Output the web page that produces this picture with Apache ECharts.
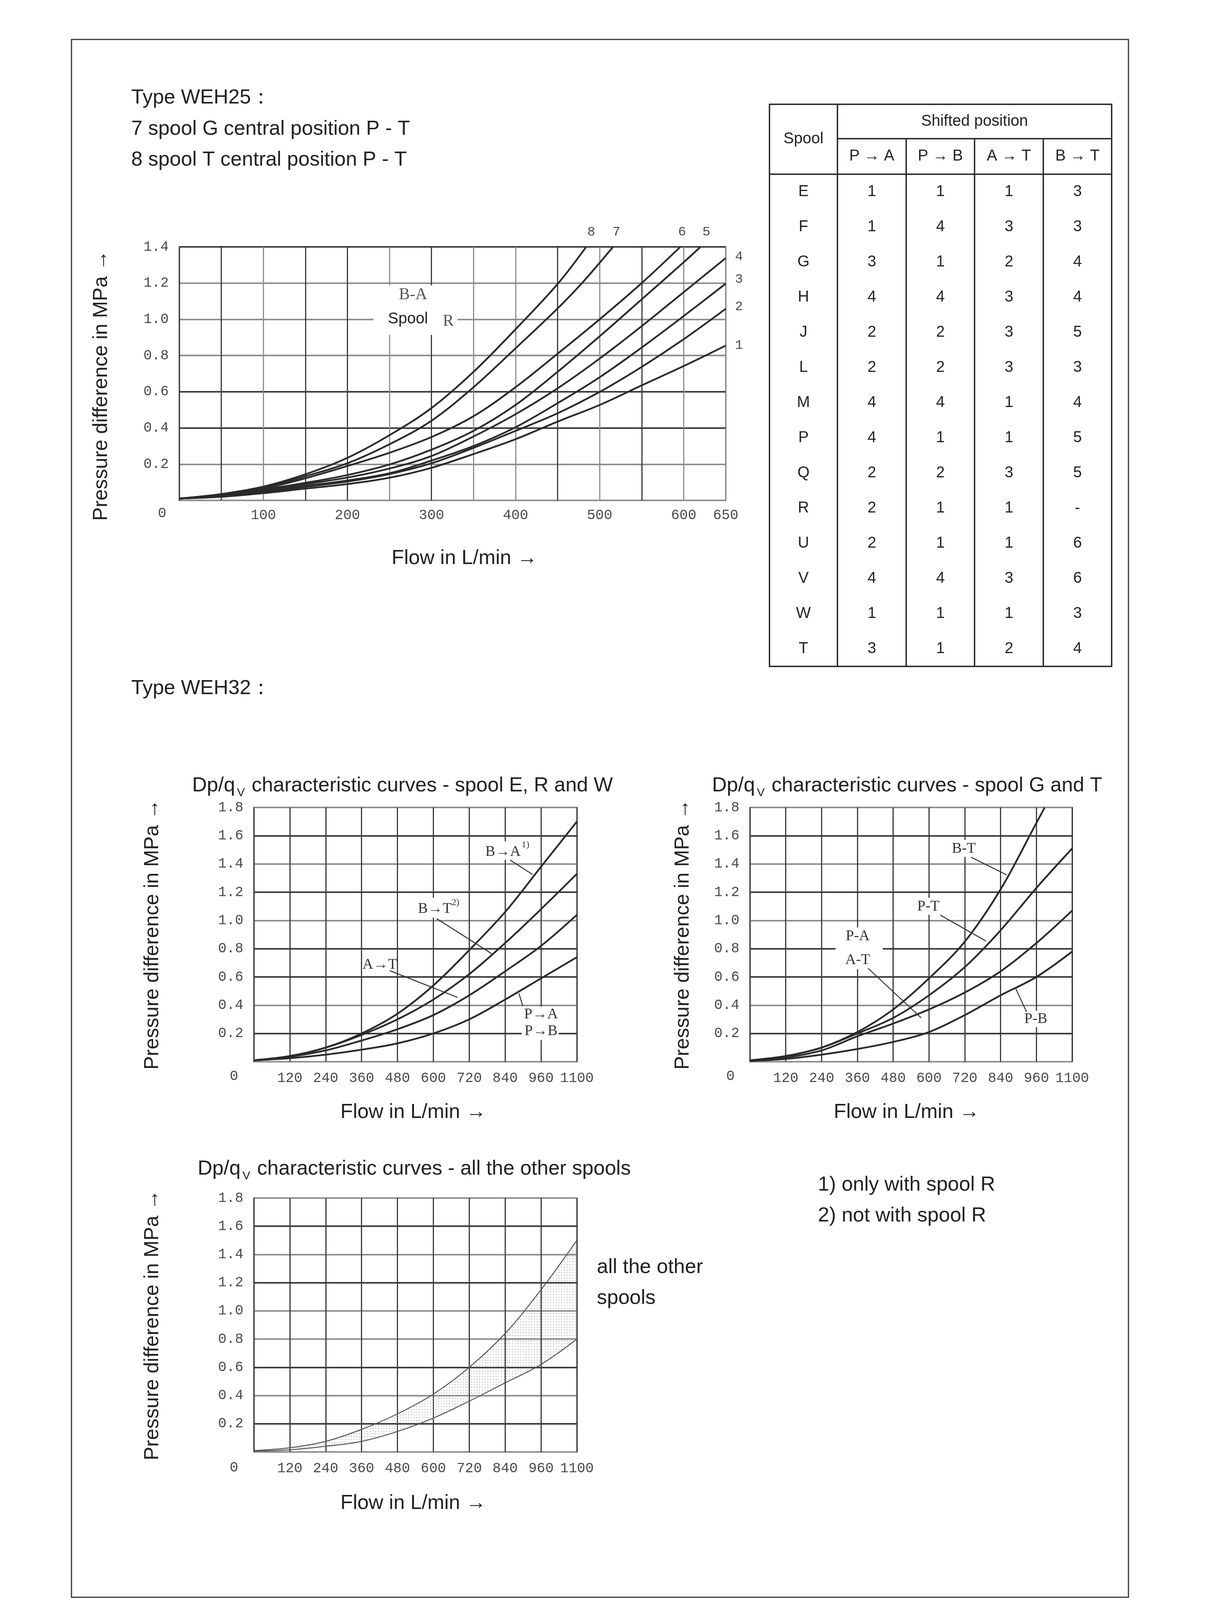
<!DOCTYPE html>
<html><head><meta charset="utf-8">
<script src="https://cdn.jsdelivr.net/npm/echarts@6/dist/echarts.min.js"></script>
<style>html,body{margin:0;padding:0;background:#fff}#c{width:3149px;height:4271px}</style>
</head><body><div id="c"></div>
<script>
// ---------------- DATA ----------------
// WEH25 curves 1..8 : [flow L/min, pressure MPa]
const weh25Curve1 = [[0,0.01],[50,0.02],[100,0.04],[150,0.065],[200,0.09],[250,0.125],[300,0.18],[350,0.256],[400,0.338],[450,0.435],[500,0.527],[550,0.635],[600,0.742],[650,0.855]];
const weh25Curve2 = [[0,0.01],[50,0.025],[100,0.045],[150,0.075],[200,0.104],[250,0.145],[300,0.205],[350,0.29],[400,0.384],[450,0.481],[500,0.599],[550,0.737],[600,0.89],[650,1.058]];
const weh25Curve3 = [[0,0.01],[50,0.025],[100,0.05],[150,0.08],[200,0.11],[250,0.15],[300,0.22],[350,0.30],[400,0.404],[450,0.537],[500,0.68],[550,0.844],[600,1.018],[650,1.197]];
const weh25Curve4 = [[0,0.01],[50,0.03],[100,0.055],[150,0.09],[200,0.126],[250,0.176],[300,0.245],[350,0.353],[400,0.476],[450,0.619],[500,0.783],[550,0.962],[600,1.15],[650,1.338]];
const weh25Curve5 = [[0,0.01],[50,0.03],[100,0.06],[150,0.097],[200,0.14],[250,0.198],[300,0.28],[350,0.384],[400,0.527],[450,0.71],[500,0.906],[550,1.11],[600,1.315],[620,1.4]];
const weh25Curve6 = [[0,0.01],[50,0.03],[100,0.065],[150,0.122],[200,0.19],[250,0.263],[300,0.35],[350,0.465],[400,0.625],[450,0.81],[500,1.0],[550,1.2],[596,1.4]];
const weh25Curve7 = [[0,0.01],[50,0.033],[100,0.07],[150,0.133],[200,0.205],[250,0.31],[300,0.44],[350,0.625],[400,0.84],[450,1.06],[479,1.2],[516,1.4]];
const weh25Curve8 = [[0,0.01],[50,0.035],[100,0.076],[150,0.144],[200,0.235],[250,0.36],[300,0.51],[350,0.71],[400,0.945],[450,1.195],[484,1.4]];
const weh25TopLabels = [['8',490],['7',520],['6',598],['5',627]];
const weh25RightLabels = [['4',1.346],['3',1.22],['2',1.07],['1',0.857]];

// WEH32 flow grid (last grid column is labelled 1100)
const flowX = [0,120,240,360,480,600,720,840,960,1080];
const flowTickLabels = ['','120','240','360','480','600','720','840','960','1100'];
// spool E, R and W
const ewBA  = [0.01,0.04,0.10,0.20,0.34,0.54,0.79,1.06,1.38,1.70];
const ewBT  = [0.01,0.04,0.10,0.19,0.30,0.44,0.62,0.84,1.08,1.33];
const ewAT  = [0.01,0.035,0.08,0.15,0.23,0.33,0.47,0.64,0.82,1.04];
const ewPAB = [0.01,0.025,0.05,0.085,0.13,0.20,0.30,0.44,0.59,0.74];
// spool G and T
const gtBT  = [[0,0.01],[120,0.04],[240,0.10],[360,0.21],[480,0.37],[600,0.59],[720,0.85],[840,1.22],[960,1.69],[988,1.8]];
const gtPT  = [0.01,0.04,0.10,0.20,0.31,0.47,0.67,0.93,1.23,1.51];
const gtPAAT= [0.01,0.03,0.08,0.18,0.27,0.37,0.49,0.64,0.84,1.07];
const gtPB  = [0.005,0.02,0.05,0.09,0.14,0.21,0.33,0.47,0.60,0.78];
// all the other spools (band)
const otherUpper = [0.01,0.03,0.075,0.16,0.27,0.41,0.60,0.84,1.15,1.50];
const otherLower = [0.005,0.015,0.04,0.075,0.145,0.24,0.36,0.49,0.62,0.80];

// table
const tableSpools = ['E','F','G','H','J','L','M','P','Q','R','U','V','W','T'];
const tablePA = ['1','1','3','4','2','2','4','4','2','2','2','4','1','3'];
const tablePB = ['1','4','1','4','2','2','4','1','2','1','1','4','1','1'];
const tableAT = ['1','3','2','3','3','3','1','1','3','1','1','3','1','2'];
const tableBT = ['3','3','4','4','5','3','4','5','5','-','6','6','3','4'];
const tableHeads = ['P → A','P → B','A → T','B → T'];

// ---------------- HELPERS ----------------
const zip = (xs, ys) => xs.map((x, i) => [x, ys[i]]);
const GREY = '#8e8e8e', DARK = '#3a3a3a', INK = '#222';
const SANS = '"Liberation Sans", Arial, sans-serif';
const SERIF = '"Liberation Serif","DejaVu Serif", serif';
const MONO = '"Liberation Mono","DejaVu Sans Mono", monospace';
const monoLabel = { fontFamily: MONO, fontSize: 36, color: '#4a4a4a' };

function yAxisFor(i, max, colors) {
  return { type: 'value', gridIndex: i, min: 0, max: max, interval: 0.2,
    axisLine: { show: false }, axisTick: { show: false },
    axisLabel: Object.assign({}, monoLabel, { margin: 27, interval: 0, formatter: v => (Math.abs(v) < 1e-9 ? '' : v.toFixed(1)) }),
    splitLine: { show: true, lineStyle: { color: colors, width: 4 } } };
}
function xAxisFlow(i) {
  return { type: 'value', gridIndex: i, min: 0, max: 1080, interval: 120,
    axisLine: { show: false }, axisTick: { show: false },
    axisLabel: Object.assign({}, monoLabel, { margin: 24, interval: 0, formatter: v => flowTickLabels[flowX.indexOf(v)] || '' }),
    splitLine: { show: true, lineStyle: { color: DARK, width: 3 } } };
}
function pt(coord, text, style) {
  return { name: text, coord: coord, symbol: 'circle', symbolSize: 1, itemStyle: { color: 'rgba(0,0,0,0)' },
    label: Object.assign({ show: true, position: 'inside', formatter: text, color: '#333', fontFamily: SERIF, fontSize: 38 }, style || {}) };
}
function seg(a, b) { return [{ coord: a }, { coord: b }]; }
function box(a, b) { return [{ coord: a }, { coord: b }]; }
function curve(idx, data, extra) {
  return Object.assign({ type: 'line', xAxisIndex: idx, yAxisIndex: idx, data: data, smooth: 0.35, showSymbol: false,
    lineStyle: { color: '#2a2a2a', width: 4.5 }, animation: false, silent: true }, extra || {});
}
const zeroPt = (off) => pt([0, 0], '0', { fontFamily: MONO, fontSize: 36, color: '#4a4a4a', offset: off });
const leaderStyle = { symbol: ['none', 'none'], silent: true, label: { show: false }, lineStyle: { type: 'solid', color: '#333', width: 2.5 }, animation: false };
const whiteArea = (boxes) => ({ silent: true, itemStyle: { color: '#fff' }, data: boxes });

// dotted pattern for the band
const pat = document.createElement('canvas'); pat.width = 7; pat.height = 7;
const pc = pat.getContext('2d'); pc.fillStyle = '#a0a0a0'; pc.fillRect(2, 2, 2, 2);

// ---------------- GRAPHIC TEXT ----------------
const mctx = document.createElement('canvas').getContext('2d');
function tw(t, font) { mctx.font = font; return mctx.measureText(t).width; }
const F52 = '52px ' + SANS;
function txt(x, y, text, opt) {
  return Object.assign({ type: 'text', x: x, y: y, style: { text: text, font: F52, fill: INK, align: 'left', verticalAlign: 'middle' } }, opt || {});
}
function ctxt(x, y, text) { return { type: 'text', x: x, y: y, style: { text: text, font: F52, fill: INK, align: 'center', verticalAlign: 'middle' } }; }
function vtxt(x, y, text) { return { type: 'text', x: x, y: y, rotation: Math.PI / 2, style: { text: text, font: F52, fill: INK, align: 'center', verticalAlign: 'middle' } }; }
function subTitle(x, y, after) {
  const w1 = tw('Dp/q', F52), fs = '30px ' + SANS, w2 = tw('V', fs), ws = tw(' ', F52);
  return [txt(x, y, 'Dp/q'),
    { type: 'text', x: x + w1 + 5, y: y + 18, style: { text: 'V', font: fs, fill: INK, align: 'left', verticalAlign: 'middle' } },
    txt(x + w1 + w2 + 8 + ws, y, after)];
}

const graphics = [];
graphics.push({ type: 'rect', shape: { x: 183, y: 101, width: 2706, height: 3988 }, style: { fill: 'none', stroke: '#333', lineWidth: 3 } });
graphics.push(txt(336, 251, 'Type WEH25：'));
graphics.push(txt(336, 331, '7 spool G central position P - T'));
graphics.push(txt(336, 410, '8 spool T central position P - T'));
graphics.push(vtxt(260, 987, 'Pressure difference in MPa →'));
graphics.push(ctxt(1189, 1430, 'Flow in L/min →'));
graphics.push(txt(336, 1763, 'Type WEH32：'));
subTitle(492, 2012, 'characteristic curves - spool E, R and W').forEach(g => graphics.push(g));
subTitle(1823, 2012, 'characteristic curves - spool G and T').forEach(g => graphics.push(g));
subTitle(506, 2993, 'characteristic curves - all the other spools').forEach(g => graphics.push(g));
graphics.push(vtxt(391, 2392, 'Pressure difference in MPa →'));
graphics.push(vtxt(1749, 2392, 'Pressure difference in MPa →'));
graphics.push(vtxt(391, 3392, 'Pressure difference in MPa →'));
graphics.push(ctxt(1058, 2848, 'Flow in L/min →'));
graphics.push(ctxt(2321, 2848, 'Flow in L/min →'));
graphics.push(ctxt(1058, 3849, 'Flow in L/min →'));
graphics.push(txt(2094, 3034, '1) only with spool R'));
graphics.push(txt(2094, 3113, '2) not with spool R'));
graphics.push(txt(1528, 3245, 'all the other'));
graphics.push(txt(1528, 3324, 'spools'));
graphics.push({ type: 'text', x: 1498, y: 4182, style: { text: '−170−', font: '48px ' + SERIF, fill: INK, align: 'center', verticalAlign: 'middle' } });

// table
const TX = [1970, 2144, 2320, 2495, 2671, 2846];
const TY0 = 267, TYH = 355, TYB = 446, TY1 = 1706, ROW0 = 491, ROWH = 90;
const tl = (x1, y1, x2, y2) => ({ type: 'line', shape: { x1, y1, x2, y2 }, style: { stroke: INK, lineWidth: 3.5 } });
graphics.push({ type: 'rect', shape: { x: TX[0], y: TY0, width: TX[5] - TX[0], height: TY1 - TY0 }, style: { fill: 'none', stroke: INK, lineWidth: 3.5 } });
graphics.push(tl(TX[1], TY0, TX[1], TY1));
for (let k = 2; k <= 4; k++) graphics.push(tl(TX[k], TYH, TX[k], TY1));
graphics.push(tl(TX[1], TYH, TX[5], TYH));
graphics.push(tl(TX[0], TYB, TX[5], TYB));
const F40 = '40px ' + SANS;
const tct = (x, y, t) => ({ type: 'text', x: x, y: y, style: { text: t, font: F40, fill: INK, align: 'center', verticalAlign: 'middle' } });
graphics.push(tct((TX[0] + TX[1]) / 2, 356, 'Spool'));
graphics.push(tct((TX[1] + TX[5]) / 2, 311, 'Shifted position'));
tableHeads.forEach((h, k) => graphics.push(tct((TX[k + 1] + TX[k + 2]) / 2, 400, h)));
const cols = [tableSpools, tablePA, tablePB, tableAT, tableBT];
cols.forEach((col, k) => col.forEach((v, r) => graphics.push(tct((TX[k] + TX[k + 1]) / 2, ROW0 + r * ROWH, v))));

// ---------------- OPTION ----------------
const c1Y = [GREY, GREY, DARK, DARK, GREY, GREY, GREY, DARK];
const c1X = [DARK, DARK, GREY, DARK, DARK, GREY, DARK, GREY, GREY, DARK, GREY, DARK, GREY, GREY];
const c2Y = [GREY, DARK, GREY, DARK, DARK, GREY, DARK, GREY, DARK, GREY];
const c4Y = [GREY, DARK, GREY, DARK, GREY, GREY, DARK, GREY, DARK, GREY];
const gridBase = { show: true, borderColor: '#444', borderWidth: 3, backgroundColor: 'transparent' };

const bandSeries = {
  type: 'custom', coordinateSystem: 'cartesian2d', xAxisIndex: 3, yAxisIndex: 3, silent: true, animation: false,
  data: [[0, 0]],
  renderItem: function (params, api) {
    const pts = [];
    for (let i = 0; i < flowX.length; i++) pts.push(api.coord([flowX[i], otherUpper[i]]));
    for (let i = flowX.length - 1; i >= 0; i--) pts.push(api.coord([flowX[i], otherLower[i]]));
    return { type: 'polygon', shape: { points: pts }, style: { fill: { image: pat, repeat: 'repeat' }, stroke: null } };
  }
};

const option = {
  backgroundColor: '#fff',
  animation: false,
  grid: [
    Object.assign({ left: 459, top: 632, width: 1399, height: 649 }, gridBase),
    Object.assign({ left: 650, top: 2067, width: 827, height: 651 }, gridBase),
    Object.assign({ left: 1920, top: 2067, width: 825, height: 651 }, gridBase),
    Object.assign({ left: 650, top: 3067, width: 827, height: 650 }, gridBase)
  ],
  xAxis: [
    { type: 'value', gridIndex: 0, min: 0, max: 650, interval: 50, axisLine: { show: false }, axisTick: { show: false },
      axisLabel: Object.assign({}, monoLabel, { margin: 20, interval: 0, formatter: v => ((v > 0 && v % 100 === 0) || v === 650) ? String(v) : '' }),
      splitLine: { show: true, lineStyle: { color: c1X, width: 3 } } },
    xAxisFlow(1), xAxisFlow(2), xAxisFlow(3)
  ],
  yAxis: [ yAxisFor(0, 1.4, c1Y), yAxisFor(1, 1.8, c2Y), yAxisFor(2, 1.8, c2Y), yAxisFor(3, 1.8, c4Y) ],
  graphic: graphics,
  series: [
    // ---- WEH25 ----
    curve(0, weh25Curve1, { markArea: whiteArea([box([231, 0.914], [331, 1.187])]) }),
    curve(0, weh25Curve2), curve(0, weh25Curve3), curve(0, weh25Curve4),
    curve(0, weh25Curve5), curve(0, weh25Curve6), curve(0, weh25Curve7),
    curve(0, weh25Curve8, { markPoint: { silent: true, animation: false, data: [
      pt([278, 1.135], 'B-A', { fontSize: 42, color: '#555' }),
      pt([272, 1.0], 'Spool', { fontFamily: SANS, fontSize: 40, color: INK }),
      pt([320, 0.988], 'R', { fontSize: 42, color: '#555' }),
      zeroPt([-44, 33])
    ].concat(weh25TopLabels.map(l => pt([l[1], 1.4], l[0], { fontFamily: MONO, fontSize: 34, color: '#4a4a4a', offset: [0, -38] })))
     .concat(weh25RightLabels.map(l => pt([650, l[1]], l[0], { fontFamily: MONO, fontSize: 34, color: '#4a4a4a', offset: [34, 0] }))) } }),
    // ---- spool E, R, W ----
    curve(1, zip(flowX, ewPAB), { markArea: whiteArea([
      box([895, 0.154], [1019, 0.389]), box([790, 1.43], [915, 1.56]), box([545, 1.02], [680, 1.16]), box([372, 0.635], [476, 0.74]) ]) }),
    curve(1, zip(flowX, ewAT)), curve(1, zip(flowX, ewBT)),
    curve(1, zip(flowX, ewBA), {
      markLine: Object.assign({ data: [ seg([857, 1.427], [932, 1.325]), seg([611, 1.013], [795, 0.765]), seg([454, 0.645], [681, 0.455]), seg([886, 0.484], [899, 0.394]) ] }, leaderStyle),
      markPoint: { silent: true, animation: false, data: [
        pt([833, 1.485], 'B→A'), pt([908, 1.535], '1)', { fontSize: 24 }),
        pt([605, 1.08], 'B→T'), pt([674, 1.125], '2)', { fontSize: 24 }),
        pt([421, 0.687], 'A→T'),
        pt([960, 0.335], 'P→A'), pt([960, 0.215], 'P→B'),
        zeroPt([-51, 37]) ] } }),
    // ---- spool G, T ----
    curve(2, zip(flowX, gtPB), { markArea: whiteArea([
      box([287, 0.655], [445, 0.95]), box([922, 0.245], [996, 0.36]), box([678, 1.45], [757, 1.57]), box([563, 1.04], [634, 1.16]) ]) }),
    curve(2, zip(flowX, gtPAAT)), curve(2, zip(flowX, gtPT)),
    curve(2, gtBT, {
      markLine: Object.assign({ data: [ seg([741, 1.448], [860, 1.323]), seg([638, 1.038], [791, 0.854]), seg([396, 0.661], [574, 0.31]), seg([889, 0.527], [927, 0.352]) ] }, leaderStyle),
      markPoint: { silent: true, animation: false, data: [
        pt([717, 1.507], 'B-T'), pt([598, 1.097], 'P-T'), pt([361, 0.887], 'P-A'), pt([361, 0.72], 'A-T'), pt([958, 0.301], 'P-B'),
        zeroPt([-50, 37]) ] } }),
    // ---- all other spools ----
    bandSeries,
    curve(3, zip(flowX, otherLower), { lineStyle: { color: '#555', width: 2.5 } }),
    curve(3, zip(flowX, otherUpper), { lineStyle: { color: '#555', width: 2.5 }, markPoint: { silent: true, animation: false, data: [ zeroPt([-51, 40]) ] } })
  ]
};
const chart = echarts.init(document.getElementById('c'), null, { renderer: 'canvas', width: 3149, height: 4271 });
chart.setOption(option);
</script>
</body></html>
